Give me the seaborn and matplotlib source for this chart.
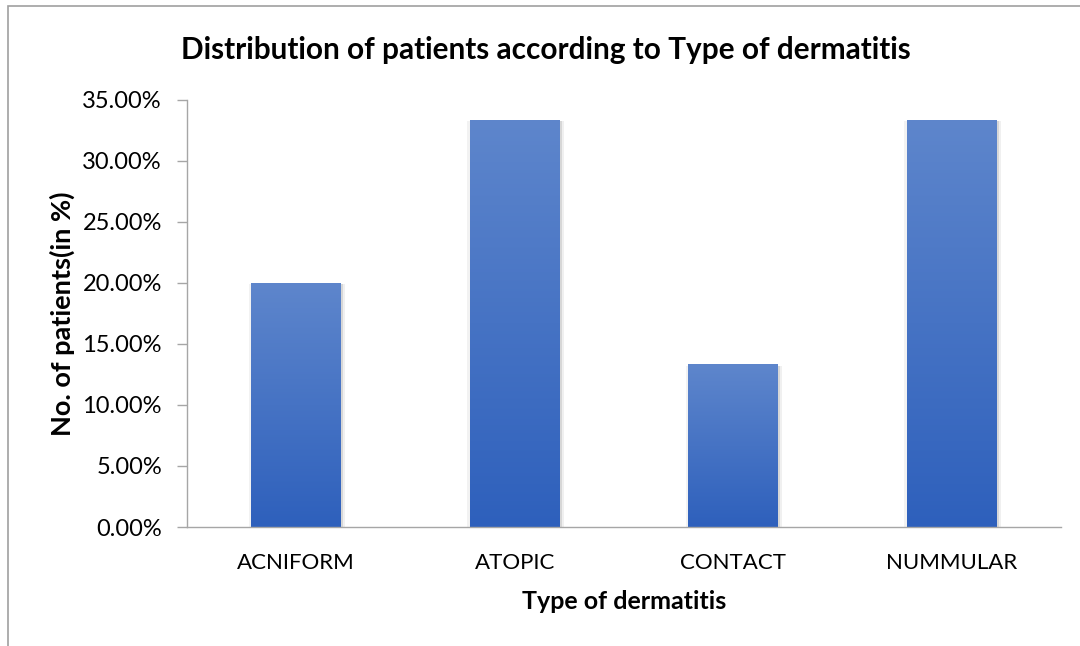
import numpy as np
import pandas as pd
import matplotlib
matplotlib.use("Agg")
import matplotlib.pyplot as plt
import matplotlib.patheffects as pe
from matplotlib.patches import Rectangle
from matplotlib.colors import LinearSegmentedColormap
from matplotlib.ticker import FuncFormatter
import seaborn as sns

categories = ["ACNIFORM", "ATOPIC", "CONTACT", "NUMMULAR"]
values = [20.00, 33.33, 13.33, 33.33]
y_ticks = [0, 5, 10, 15, 20, 25, 30, 35]

title = "Distribution of patients according to Type of dermatitis"
x_label = "Type of dermatitis"
y_label = "No. of patients(in %)"

sns.set_theme(style="white")
plt.rcParams['font.family'] = ['Lato', 'DejaVu Sans']

fig = plt.figure(figsize=(10.8, 6.46), dpi=100)
ax = fig.add_axes([187/1080, 1-527/646, (1061-187)/1080, (527-99.5)/646])

df = pd.DataFrame({"cat": categories, "val": values})
sns.barplot(data=df, x="cat", y="val", ax=ax, color="#4472C4", width=0.41,
            saturation=1)

cmap = LinearSegmentedColormap.from_list("g", ["#2E60BC", "#5E86CC"])
grad = np.linspace(0, 1, 256).reshape(-1, 1)
for p in ax.patches:
    p.set_edgecolor("none")
    p.set_path_effects([
        pe.SimplePatchShadow(offset=(3, -1), shadow_rgbFace="#000000", alpha=0.06),
        pe.SimplePatchShadow(offset=(-2, -1), shadow_rgbFace="#000000", alpha=0.05),
        pe.SimplePatchShadow(offset=(1.5, -1), shadow_rgbFace="#000000", alpha=0.10),
        pe.Normal()])
    x0, y0 = p.get_x(), p.get_y()
    w, h = p.get_width(), p.get_height()
    im = ax.imshow(grad, extent=[x0, x0 + w, y0, y0 + h], origin="lower",
                   cmap=cmap, aspect="auto", zorder=p.get_zorder() + 0.1)
    im.set_clip_path(p)

ax.set_xlim(-0.5, len(categories) - 0.5)
ax.set_ylim(0, 35)
ax.set_yticks(y_ticks)
ax.yaxis.set_major_formatter(FuncFormatter(lambda v, pos: f"{v:.2f}%"))

for s in ["top", "right"]:
    ax.spines[s].set_visible(False)
for s in ["left", "bottom"]:
    ax.spines[s].set_color("#A6A6A6")
    ax.spines[s].set_linewidth(1.0)

ax.tick_params(axis="y", which="major", left=True, length=7, width=1, color="#A6A6A6",
               labelsize=17, labelcolor="#000000", pad=11)
ax.tick_params(axis="x", bottom=False, labelsize=16, labelcolor="#000000", pad=13)

ax.set_xlabel(x_label, fontsize=18, fontweight="bold", color="#000000", labelpad=12)
ax.set_ylabel(y_label, fontsize=19.5, fontweight="bold", color="#000000", labelpad=5)
fig.text(546/1080, 1-50/646, title, fontsize=21.4, fontweight="bold",
         ha="center", va="center", color="#000000")

# outer chart frame
fig.patches.append(Rectangle((8/1080, -0.1), 1.2, 1.1 - 6/646, transform=fig.transFigure,
                             fill=False, edgecolor="#A0A0A0", linewidth=1.2))

fig.savefig("out.png", dpi=100, facecolor="white")
